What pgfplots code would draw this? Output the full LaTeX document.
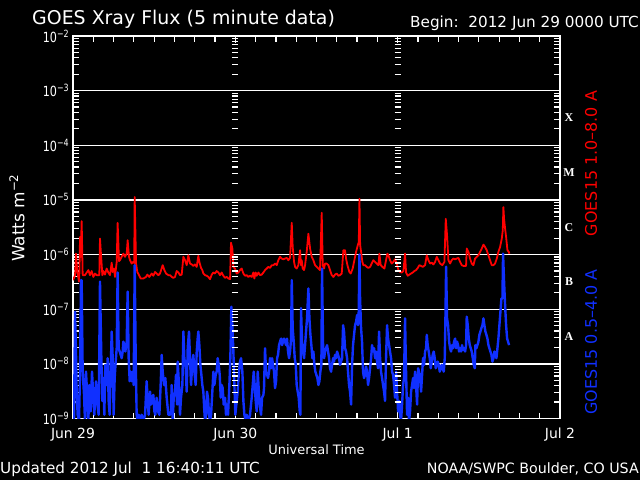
\documentclass[border=0pt]{standalone}
\usepackage{fontspec}
\setmainfont{DejaVu Sans}
\newfontfamily\flarefont{Liberation Serif}
\usepackage{pgfplots}
\pgfplotsset{compat=1.18}
\definecolor{goesred}{RGB}{255,0,0}
\definecolor{goesblue}{RGB}{16,48,255}
\newcommand{\fs}[1]{\fontsize{#1}{#1}\selectfont}
\newcommand{\tenpow}[1]{\scalebox{0.8}[1]{\fs{14}10\raisebox{5bp}{\fs{10}#1}}}

\begin{document}
\begin{tikzpicture}
\begin{scope}[x=1bp,y=1bp]
\useasboundingbox (0,0) rectangle (640,480);
\fill[black] (0,0) rectangle (640,480);
\end{scope}
\begin{axis}[
  at={(73bp,61.5bp)}, anchor=south west,
  width=487bp, height=382.5bp, scale only axis,
  xmin=0, xmax=72, ymin=1e-9, ymax=1e-2, ymode=log,
  axis line style={white, line width=1.5bp},
  xtick={0,24,48,72}, xticklabels={Jun 29,Jun 30,Jul 1,Jul 2},
  minor xtick={3,6,...,69},
  ytick={1e-9,1e-8,1e-7,1e-6,1e-5,1e-4,1e-3,1e-2},
  yticklabels={\tenpow{−9},\tenpow{−8},\tenpow{−7},\tenpow{−6},\tenpow{−5},\tenpow{−4},\tenpow{−3},\tenpow{−2}},
  minor ytick={2e-9,3e-9,4e-9,5e-9,6e-9,7e-9,8e-9,9e-9,
    2e-8,3e-8,4e-8,5e-8,6e-8,7e-8,8e-8,9e-8,
    2e-7,3e-7,4e-7,5e-7,6e-7,7e-7,8e-7,9e-7,
    2e-6,3e-6,4e-6,5e-6,6e-6,7e-6,8e-6,9e-6,
    2e-5,3e-5,4e-5,5e-5,6e-5,7e-5,8e-5,9e-5,
    2e-4,3e-4,4e-4,5e-4,6e-4,7e-4,8e-4,9e-4,
    2e-3,3e-3,4e-3,5e-3,6e-3,7e-3,8e-3,9e-3},
  ymajorgrids, major grid style={white, line width=1.3bp},
  tick style={white, line width=1.2bp},
  major tick length=7bp, minor tick length=6bp,
  tick label style={white},
  xticklabel style={font=\fs{14}, anchor=north, yshift=-9bp, inner sep=0pt},
  yticklabel style={anchor=east, xshift=-4bp, inner sep=0pt},
]

% GOES15 1.0-8.0 A (long channel)
\addplot[goesred, line width=1.8bp, line join=round] coordinates {
(0,3.4e-7) (0.30,4.2e-7) (0.44,1.04e-6) (0.64,4.8e-7) (0.89,3.2e-7) (0.95,4.8e-7) (1.04,2.1e-6) (1.13,9e-7) (1.28,4.1e-6) (1.43,4.2e-7)
(1.77,4.2e-7) (2.27,5.2e-7) (2.51,4.2e-7) (2.76,5.0e-7) (3.01,3.9e-7) (3.25,4.5e-7) (3.50,4.2e-7) (3.89,4.2e-7) (3.99,1.96e-6) (4.19,8e-7)
(4.34,4.2e-7) (4.49,5.0e-7) (4.73,4.3e-7) (4.98,5.55e-7) (5.22,4.7e-7) (5.47,4.2e-7) (5.72,7.1e-7) (5.87,4.8e-7) (6.06,5.55e-7) (6.21,3.9e-7)
(6.46,7.35e-7) (6.60,3.8e-6) (6.80,7.6e-7) (6.95,7.9e-7) (7.20,9.1e-7) (7.44,1.04e-6) (7.69,9.1e-7) (7.94,1.04e-6) (8.08,1.83e-6) (8.28,9.1e-7)
(8.43,7.9e-7) (8.67,6.85e-7) (8.92,7.35e-7) (9.05,7.0e-7) (9.12,1.13e-5) (9.32,6.85e-7) (9.51,4.8e-7) (9.76,4.2e-7) (10.01,3.65e-7) (10.40,3.65e-7)
(10.79,3.9e-7) (10.99,4.3e-7) (11.29,3.9e-7) (11.63,4.5e-7) (11.88,4.1e-7) (12.13,4.8e-7) (12.37,4.5e-7) (12.62,4.2e-7) (12.86,4.5e-7) (13.26,6.4e-7)
(13.51,5.2e-7) (13.75,4.5e-7) (14.10,4.2e-7) (14.34,4.2e-7) (14.59,3.9e-7) (14.84,3.75e-7) (15.08,3.9e-7) (15.33,5.0e-7) (15.58,4.7e-7) (15.82,4.2e-7)
(16.07,4.3e-7) (16.32,9.1e-7) (16.56,7.9e-7) (16.81,6.4e-7) (17.05,9.7e-7) (17.30,6.85e-7) (17.55,6.6e-7) (17.79,6.2e-7) (18.04,6.6e-7) (18.29,5.95e-7)
(18.53,9.5e-7) (18.68,7.35e-7) (18.93,5.7e-7) (19.12,5.2e-7) (19.27,4.5e-7) (19.52,4.2e-7) (19.77,4.1e-7) (20.01,3.9e-7) (20.26,3.55e-7) (20.51,4.3e-7)
(20.75,4.7e-7) (20.99,4.5e-7) (21.24,5.0e-7) (21.49,4.7e-7) (21.74,4.2e-7) (21.98,4.7e-7) (22.23,4.1e-7) (22.48,3.75e-7) (22.72,3.9e-7) (22.97,3.65e-7)
(23.22,3.55e-7) (23.36,1.65e-6) (23.56,1.29e-6) (23.71,5.95e-7) (23.95,5.55e-7) (24.20,4.5e-7) (24.45,4.7e-7) (24.69,5.2e-7) (24.94,5.55e-7) (25.19,4.5e-7)
(25.43,4.1e-7) (25.68,4.2e-7) (25.93,3.9e-7) (26.17,4.1e-7) (26.42,3.9e-7) (26.67,4.7e-7) (26.81,3.65e-7) (27.01,4.7e-7) (27.16,4.1e-7) (27.41,4.7e-7)
(27.65,4.2e-7) (27.90,4.3e-7) (28.15,4.7e-7) (28.39,5.2e-7) (28.64,5.55e-7) (28.88,5.95e-7) (29.13,5.7e-7) (29.38,6.4e-7) (29.62,6.4e-7) (29.87,6.85e-7)
(30.12,6.4e-7) (30.36,7.9e-7) (30.61,9.1e-7) (30.86,8.45e-7) (31.10,8.2e-7) (31.35,8.45e-7) (31.59,8.7e-7) (31.84,7.9e-7) (32.09,8.7e-7) (32.34,3.8e-6)
(32.48,1.38e-6) (32.68,7.35e-7) (32.83,5.95e-7) (33.07,5.55e-7) (33.32,6.4e-7) (33.57,1.2e-6) (33.71,6.4e-7) (33.81,7.9e-7) (33.96,5.55e-7) (34.16,5.2e-7)
(34.31,6.4e-7) (34.55,1.12e-6) (34.80,2.4e-6) (35.05,1.29e-6) (35.29,9.1e-7) (35.54,7.9e-7) (35.79,6.4e-7) (36.03,5.95e-7) (36.28,5.55e-7) (36.52,5.2e-7)
(36.77,5.8e-6) (36.92,6.4e-7) (37.12,5.55e-7) (37.26,6.85e-7) (37.51,6.85e-7) (37.76,6.4e-7) (38.00,5.2e-7) (38.25,4.2e-7) (38.50,3.9e-7) (38.74,4.3e-7)
(38.99,4.5e-7) (39.24,4.1e-7) (39.48,4.2e-7) (39.73,4.5e-7) (39.97,1.2e-6) (40.22,1.2e-6) (40.37,8.45e-7) (40.57,6.4e-7) (40.86,4.8e-7) (41.06,4.5e-7)
(41.35,5.55e-7) (41.60,7.9e-7) (41.85,1.12e-6) (42.10,1.48e-6) (42.25,1.7e-6) (42.35,1.05e-5) (42.45,1.5e-6) (42.59,1.12e-6) (42.78,7.35e-7) (42.93,6.4e-7)
(43.18,6.4e-7) (43.42,5.95e-7) (43.67,5.7e-7) (43.92,5.95e-7) (44.16,6.85e-7) (44.41,7.9e-7) (44.66,7.35e-7) (44.90,6.85e-7) (45.15,6.4e-7) (45.30,1.04e-6)
(45.49,6.4e-7) (45.74,5.95e-7) (46.04,5.55e-7) (46.23,7.35e-7) (46.48,1.04e-6) (46.63,9.7e-7) (46.87,7.9e-7) (47.12,6.85e-7) (47.37,7.35e-7) (47.61,8.2e-7)
(47.86,6.85e-7) (48.11,5.2e-7) (48.35,4.8e-7) (48.60,4.7e-7) (48.85,5.0e-7) (49.09,1.04e-6) (49.24,4.7e-7) (49.49,4.1e-7) (49.73,4.3e-7) (49.98,4.5e-7)
(50.23,4.7e-7) (50.47,5.0e-7) (50.72,5.2e-7) (50.97,5.7e-7) (51.21,6.4e-7) (51.46,6.2e-7) (51.71,5.95e-7) (52.05,6.4e-7) (52.30,9.7e-7) (52.54,7.9e-7)
(52.79,6.85e-7) (53.04,7.1e-7) (53.28,6.6e-7) (53.53,7.35e-7) (53.78,9.1e-7) (54.02,7.9e-7) (54.27,6.85e-7) (54.61,6.4e-7) (54.91,7.35e-7) (55.11,4.5e-6)
(55.30,2.25e-6) (55.50,7.9e-7) (55.75,6.85e-7) (55.99,7.9e-7) (56.24,8.45e-7) (56.49,8.2e-7) (56.73,8.45e-7) (56.98,8.7e-7) (57.23,7.35e-7) (57.47,6.4e-7)
(57.72,6.2e-7) (58.11,6.2e-7) (58.21,1.29e-6) (58.46,1.12e-6) (58.70,8.45e-7) (58.95,6.85e-7) (59.20,6.4e-7) (59.44,8.45e-7) (59.69,9.1e-7) (59.94,9.7e-7)
(60.18,1.12e-6) (60.43,1.29e-6) (60.68,1.52e-6) (60.92,1.38e-6) (61.17,1.2e-6) (61.42,9.7e-7) (61.66,7.9e-7) (61.91,6.4e-7) (62.16,6.4e-7) (62.40,6.85e-7)
(62.65,8.45e-7) (62.89,1.12e-6) (63.14,1.38e-6) (63.39,1.96e-6) (63.54,2.8e-6) (63.63,7.4e-6) (63.73,4.5e-6) (63.88,3.0e-6) (64.03,2.1e-6) (64.23,1.2e-6)
(64.42,1.12e-6) (64.52,1.04e-6)
};

% GOES15 0.5-4.0 A (short channel)
\addplot[goesblue, line width=2.4bp, line join=round] coordinates {
(0,1.2e-9) (0.05,4.1e-9) (0.15,9e-10) (0.30,9.0e-8) (0.44,1.68e-8) (0.54,3.1e-9) (0.69,1.17e-9) (0.89,9e-10) (1.04,7.2e-9) (1.18,3.4e-7)
(1.28,3.4e-7) (1.43,7.2e-9) (1.63,2.7e-9) (1.77,9e-10) (1.92,7.2e-9) (2.12,2.4e-9) (2.27,9e-10) (2.42,4.1e-9) (2.61,1.35e-9) (2.81,7.2e-9)
(3.01,2.4e-9) (3.15,1.17e-9) (3.40,4.8e-9) (3.60,1.8e-9) (3.79,1.17e-9) (3.99,3.2e-7) (4.19,1.27e-8) (4.34,2.1e-9) (4.49,5.5e-9) (4.63,1.17e-9)
(4.78,9.6e-9) (4.98,4.1e-9) (5.13,1.27e-8) (5.27,2.1e-9) (5.42,1.17e-9) (5.57,7.2e-9) (5.72,3.9e-8) (5.87,1.27e-8) (6.01,1.17e-9) (6.16,5.5e-9)
(6.31,1.1e-8) (6.46,1.93e-8) (6.60,4.7e-7) (6.75,1.93e-8) (6.90,1.68e-8) (7.05,1.46e-8) (7.20,1.27e-8) (7.34,1.68e-8) (7.44,2.55e-8) (7.59,2.2e-8)
(7.74,1.68e-8) (7.94,2.55e-8) (8.08,2.1e-7) (8.23,1.27e-8) (8.38,4.8e-9) (8.53,7.2e-9) (8.67,4.8e-9) (8.82,7.2e-9) (8.97,4.1e-9) (9.12,6.4e-7)
(9.27,1.27e-8) (9.41,1.17e-9) (9.56,9e-10) (9.71,1.17e-9) (9.91,9e-10) (10.15,1.17e-9) (10.40,9e-10) (10.65,1.17e-9) (10.89,4.8e-9) (11.04,2.1e-9)
(11.19,1.17e-9) (11.39,3.1e-9) (11.53,1.8e-9) (11.68,2.4e-9) (11.88,2.7e-9) (12.03,1.35e-9) (12.17,1.17e-9) (12.37,2.4e-9) (12.57,1.35e-9) (12.77,1.17e-9)
(12.96,4.1e-9) (13.11,1.46e-8) (13.26,7.2e-9) (13.46,4.1e-9) (13.65,5.5e-9) (13.85,2.4e-9) (14.10,1.17e-9) (14.34,1.17e-9) (14.49,1.35e-9) (14.59,4.1e-9)
(14.74,9e-10) (14.89,2.4e-9) (15.08,3.1e-9) (15.23,6.3e-9) (15.38,1.8e-9) (15.48,1.1e-8) (15.67,4.1e-9) (15.82,1.17e-9) (15.97,2.4e-9) (16.17,4.1e-9)
(16.32,3.9e-8) (16.46,1.27e-8) (16.66,8.3e-9) (16.81,3.1e-9) (16.96,1.93e-8) (17.15,3.9e-8) (17.30,1.27e-8) (17.45,4.1e-9) (17.65,1.1e-8) (17.79,1.46e-8)
(17.94,7.2e-9) (18.14,4.1e-9) (18.29,1.68e-8) (18.43,2.9e-8) (18.53,3.9e-8) (18.68,2.2e-8) (18.83,9.6e-9) (18.98,6.3e-9) (19.12,4.1e-9) (19.27,3.1e-9)
(19.42,1.35e-9) (19.52,9e-10) (19.67,1.17e-9) (19.81,3.1e-9) (19.96,2.4e-9) (20.11,1.17e-9) (20.26,9e-10) (20.41,1.17e-9) (20.60,3.1e-9) (20.75,7.2e-9)
(20.90,4.1e-9) (21.10,6.3e-9) (21.24,7.2e-9) (21.39,1.27e-8) (21.54,9.6e-9) (21.69,6.3e-9) (21.84,2.4e-9) (21.98,4.1e-9) (22.13,3.6e-9) (22.28,1.8e-9)
(22.48,2.4e-9) (22.62,1.17e-9) (22.77,1.8e-9) (22.92,1.17e-9) (23.12,4.1e-9) (23.26,1.27e-8) (23.41,1.11e-7) (23.56,5.1e-8) (23.71,1.68e-8) (23.86,4.1e-9)
(24.00,1.17e-9) (24.15,1.8e-9) (24.35,3.1e-9) (24.50,6.3e-9) (24.69,1.1e-8) (24.84,1.27e-8) (25.04,7.2e-9) (25.19,2.1e-9) (25.34,1.17e-9) (25.53,9e-10)
(25.68,1.17e-9) (25.93,9e-10) (26.17,1.17e-9) (26.42,2.4e-9) (26.57,4.1e-9) (26.72,7.2e-9) (26.86,4.1e-9) (27.01,2.1e-9) (27.16,1.35e-9) (27.31,7.2e-9)
(27.45,3.6e-9) (27.60,1.8e-9) (27.80,1.17e-9) (27.95,2.4e-9) (28.15,2.7e-9) (28.24,3.6e-9) (28.39,1.93e-8) (28.54,7.2e-9) (28.69,6.3e-9) (28.84,5.5e-9)
(28.98,7.2e-9) (29.13,1.27e-8) (29.28,8.3e-9) (29.43,1.27e-8) (29.57,9.6e-9) (29.72,7.2e-9) (29.87,3.6e-9) (30.02,4.8e-9) (30.17,1.27e-8) (30.31,1.46e-8)
(30.46,2.2e-8) (30.61,2.55e-8) (30.76,2.9e-8) (30.91,2.2e-8) (31.05,2.55e-8) (31.20,2.9e-8) (31.35,2.55e-8) (31.50,2.2e-8) (31.64,2.9e-8) (31.79,1.68e-8)
(31.94,1.27e-8) (32.09,1.68e-8) (32.24,2.9e-8) (32.34,3.4e-7) (32.48,4.5e-8) (32.63,2.55e-8) (32.78,1.27e-8) (32.93,9.6e-9) (33.07,4.1e-9) (33.22,3.1e-9)
(33.37,2.4e-9) (33.52,1.35e-9) (33.62,1.17e-9) (33.71,1.05e-7) (33.86,2.55e-8) (34.01,1.68e-8) (34.16,1.27e-8) (34.31,2.2e-8) (34.45,3.9e-8) (34.60,6.8e-8)
(34.80,2.4e-7) (34.95,6.8e-8) (35.10,3.4e-8) (35.24,2.2e-8) (35.39,1.27e-8) (35.54,1.68e-8) (35.69,9.6e-9) (35.83,7.2e-9) (35.98,6.3e-9) (36.13,5.5e-9)
(36.28,4.1e-9) (36.43,4.8e-9) (36.57,7.2e-9) (36.72,9.6e-9) (36.82,5.55e-7) (36.97,2.2e-8) (37.12,1.27e-8) (37.26,1.68e-8) (37.41,1.93e-8) (37.56,2.2e-8)
(37.71,1.68e-8) (37.86,1.27e-8) (38.00,8.3e-9) (38.15,7.2e-9) (38.30,9.6e-9) (38.45,1.27e-8) (38.59,1.1e-8) (38.74,1.46e-8) (38.89,1.27e-8) (39.04,1.68e-8)
(39.19,1.46e-8) (39.33,1.27e-8) (39.48,9.6e-9) (39.63,1.1e-8) (39.78,1.27e-8) (39.93,5.1e-8) (40.07,3.9e-8) (40.22,1.93e-8) (40.37,1.68e-8) (40.52,1.27e-8)
(40.66,7.2e-9) (40.81,4.1e-9) (40.96,3.1e-9) (41.11,1.8e-9) (41.26,9.6e-9) (41.40,2.2e-8) (41.55,3.4e-8) (41.70,5.1e-8) (41.85,5.9e-8) (42.00,7.8e-8)
(42.14,5.1e-8) (42.24,9e-8) (42.35,1.0e-6) (42.44,1.58e-7) (42.59,4.5e-8) (42.73,2.55e-8) (42.88,7.2e-9) (43.03,5.5e-9) (43.18,6.3e-9) (43.33,8.9e-9)
(43.47,7.2e-9) (43.62,4.1e-9) (43.77,5.5e-9) (43.92,8.3e-9) (44.07,1.27e-8) (44.21,2.2e-8) (44.36,1.68e-8) (44.51,1.93e-8) (44.66,1.27e-8) (44.80,1.68e-8)
(44.95,1.1e-8) (45.10,8.3e-9) (45.25,3.9e-8) (45.40,1.27e-8) (45.54,7.2e-9) (45.69,5.5e-9) (45.84,4.1e-9) (45.99,3.1e-9) (46.13,2.1e-9) (46.28,1.27e-8)
(46.43,5.1e-8) (46.58,2.9e-8) (46.73,2.2e-8) (46.87,1.68e-8) (47.02,1.27e-8) (47.17,7.2e-9) (47.32,6.3e-9) (47.47,4.1e-9) (47.61,2.4e-9) (47.76,7.2e-9)
(47.91,3.1e-9) (48.06,1.35e-9) (48.21,2.1e-9) (48.35,1.17e-9) (48.50,9e-10) (48.65,1.8e-9) (48.80,4.1e-9) (48.94,5.5e-9) (49.09,6.8e-8) (49.24,7.2e-9)
(49.39,1.17e-9) (49.54,2.4e-9) (49.68,9e-10) (49.83,1.35e-9) (49.98,3.1e-9) (50.13,4.1e-9) (50.28,5.5e-9) (50.42,3.6e-9) (50.57,7.2e-9) (50.72,4.1e-9)
(50.87,1.8e-9) (51.02,8.3e-9) (51.16,7.2e-9) (51.31,5.5e-9) (51.46,3.1e-9) (51.61,6.3e-9) (51.75,1.27e-8) (51.90,9.6e-9) (52.05,1.68e-8) (52.20,1.93e-8)
(52.30,3.4e-8) (52.44,2.2e-8) (52.59,1.68e-8) (52.74,1.27e-8) (52.89,8.3e-9) (53.04,1.1e-8) (53.18,1.46e-8) (53.33,1.68e-8) (53.48,1.27e-8) (53.63,8.3e-9)
(53.78,9.6e-9) (53.92,1.1e-8) (54.07,9.6e-9) (54.22,7.2e-9) (54.37,8.3e-9) (54.51,9.6e-9) (54.66,8.3e-9) (54.81,7.2e-9) (54.96,1.27e-8) (55.06,6.8e-8)
(55.16,6.0e-7) (55.30,6.8e-8) (55.45,5.1e-8) (55.60,2.55e-8) (55.75,1.93e-8) (55.89,1.68e-8) (56.04,2.2e-8) (56.19,1.93e-8) (56.34,2.55e-8) (56.49,2.9e-8)
(56.63,1.93e-8) (56.78,2.55e-8) (56.93,2.2e-8) (57.08,1.68e-8) (57.23,1.93e-8) (57.37,1.68e-8) (57.52,2.2e-8) (57.67,1.8e-8) (57.82,1.93e-8) (57.97,1.68e-8)
(58.11,2.2e-8) (58.21,7.3e-8) (58.36,5.1e-8) (58.51,2.9e-8) (58.66,2.2e-8) (58.80,1.93e-8) (58.95,1.68e-8) (59.10,1.27e-8) (59.25,9.6e-9) (59.40,8.3e-9)
(59.49,2.2e-8) (59.64,1.93e-8) (59.79,2.2e-8) (59.94,2.55e-8) (60.08,3.4e-8) (60.23,3.9e-8) (60.38,4.5e-8) (60.53,5.1e-8) (60.68,6.8e-8) (60.82,5.1e-8)
(60.97,3.9e-8) (61.12,3.4e-8) (61.27,2.9e-8) (61.42,2.2e-8) (61.56,1.93e-8) (61.71,1.68e-8) (61.86,1.46e-8) (62.01,1.1e-8) (62.16,1.27e-8) (62.30,1.68e-8)
(62.45,1.46e-8) (62.60,1.27e-8) (62.75,1.93e-8) (62.89,2.9e-8) (63.04,5.1e-8) (63.19,9e-8) (63.34,1.58e-7) (63.49,1.58e-7) (63.58,1.04e-6) (63.73,3.2e-7)
(63.88,1.19e-7) (64.03,5.1e-8) (64.18,2.9e-8) (64.32,2.55e-8) (64.47,2.2e-8)
};
\end{axis}

\begin{scope}[x=1bp,y=1bp]
% minor log ticks along the day boundaries
\foreach \xx in {235.3,397.7} {
  \foreach \k in {0,...,6} {
    \foreach \m in {2,...,9} {
      \draw[white, line width=1.2bp] ({\xx-3},{61.5+54.643*(\k+log10(\m))}) -- ++(6,0);
    }
  }
}

% flare classes
\foreach \lab [count=\i] in {A,B,C,M,X} {
  \node[white, font=\flarefont\bfseries\fs{12}, inner sep=0pt] at (569,{61.5+54.643*(\i+0.5)}) {\lab};
}

\node[rotate=90, goesred, font=\fs{16}, inner sep=0pt] at (591,316.5) {GOES15 1.0–8.0 A};
\node[rotate=90, goesblue, font=\fs{16}, inner sep=0pt] at (591,138) {GOES15 0.5–4.0 A};
\node[rotate=90, white, font=\fs{17}, inner sep=0pt] at (17,262) {Watts m\textsuperscript{−2}};

\node[anchor=base west, white, font=\fs{19}, inner sep=0pt] at (32,455) {GOES Xray Flux (5 minute data)};
\node[anchor=base east, white, font=\fs{15.3}, inner sep=0pt] at (639,452) {Begin:\ \ 2012 Jun 29 0000 UTC};
\node[anchor=base, white, font=\fs{13}, inner sep=0pt] at (316.5,25) {Universal Time};
\node[anchor=base west, white, font=\fs{15.3}, inner sep=0pt] at (0,6) {Updated 2012 Jul\ \ 1 16:40:11 UTC};
\node[anchor=base east, white, font=\fs{14.3}, inner sep=0pt] at (639,6) {NOAA/SWPC Boulder, CO USA};
\end{scope}
\end{tikzpicture}
\end{document}
